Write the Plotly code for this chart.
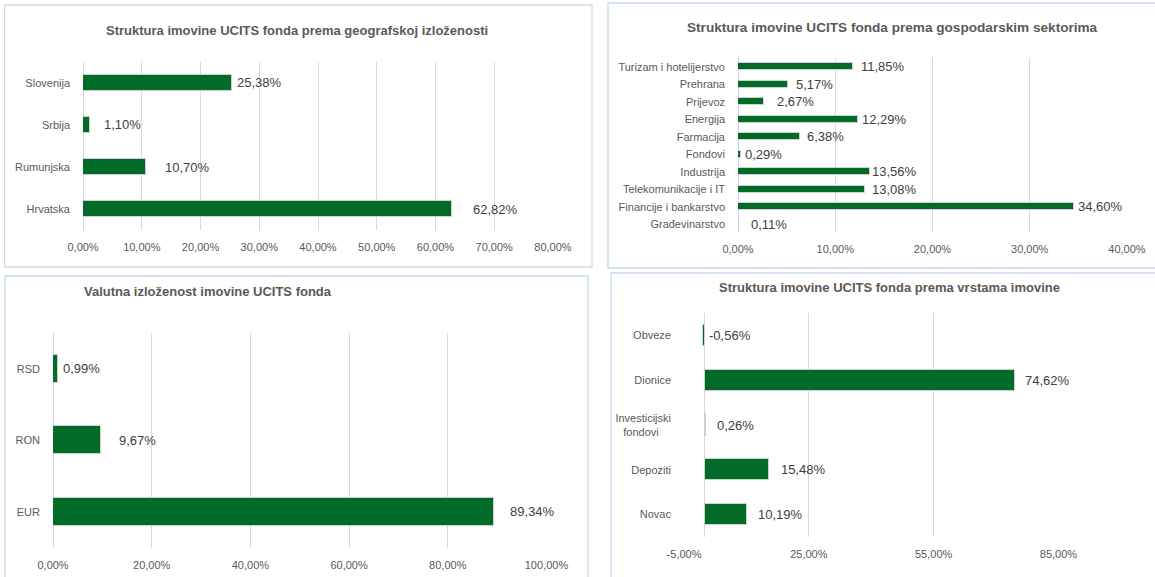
import plotly.graph_objects as go

W, H = 1155, 577

# ---------------- data ----------------
geo_cats = ["Hrvatska", "Rumunjska", "Srbija", "Slovenija"]
geo_vals = [62.82, 10.70, 1.10, 25.38]

sec_cats = ["Građevinarstvo", "Financije i bankarstvo", "Telekomunikacije i IT", "Industrija",
            "Fondovi", "Farmacija", "Energija", "Prijevoz", "Prehrana", "Turizam i hotelijerstvo"]
sec_vals = [0.11, 34.60, 13.08, 13.56, 0.29, 6.38, 12.29, 2.67, 5.17, 11.85]

cur_cats = ["EUR", "RON", "RSD"]
cur_vals = [89.34, 9.67, 0.99]

ast_cats = ["Novac", "Depoziti", "Investicijski fondovi", "Dionice", "Obveze"]
ast_vals = [10.19, 15.48, 0.26, 74.62, -0.56]
ast_ticktext = ["Novac", "Depoziti", "Investicijski<br>fondovi\u00a0\u00a0\u00a0\u00a0", "Dionice", "Obveze"]

geo_ticks = [0, 10, 20, 30, 40, 50, 60, 70, 80]
sec_ticks = [0, 10, 20, 30, 40]
cur_ticks = [0, 20, 40, 60, 80, 100]
ast_ticks = [-5, 25, 55, 85]

titles = [
    "Struktura imovine UCITS fonda prema geografskoj izloženosti",
    "Struktura imovine UCITS fonda prema gospodarskim sektorima",
    "Valutna izloženost imovine UCITS fonda",
    "Struktura imovine UCITS fonda prema vrstama imovine",
]

# ---------------- styling ----------------
FONT = "Liberation Sans Narrow, Arial Narrow, Liberation Sans, Arial, sans-serif"
GREEN = "#036b28"
TICK_C = "#595959"
LABEL_C = "#404040"

# horizontal gap (px) between bar end and its data label, as placed in the original
geo_gap = [21, 19, 14, 5]
sec_gap = [12, 3.5, 7, 2, 4, 7, 4.5, 13, 8, 8]
cur_gap = [16, 18, 5]
ast_gap = [10.5, 11.5, 11, 10, 4]


def fx(p):
    return p / W


def fy(p):
    return 1 - p / H


def pct(v):
    return f"{v:.2f}".replace(".", ",") + "%"


panels = [
    dict(cats=geo_cats, vals=geo_vals, ticks=geo_ticks, gap=geo_gap, tt=geo_cats,
         xd=(83, 553), yd=(62, 230), bw=0.37, grid="#d9d9d9", zero="#d9d9d9", sx=9),
    dict(cats=sec_cats, vals=sec_vals, ticks=sec_ticks, gap=sec_gap, tt=sec_cats,
         xd=(738, 1127), yd=(58, 233), bw=0.40, grid="#d9d9d9", zero="#c6d9f0", sx=8),
    dict(cats=cur_cats, vals=cur_vals, ticks=cur_ticks, gap=cur_gap, tt=cur_cats,
         xd=(53, 546.5), yd=(333, 547.5), bw=0.39, grid="#d9d9d9", zero="#c6d9f0", sx=9),
    dict(cats=ast_cats, vals=ast_vals, ticks=ast_ticks, gap=ast_gap, tt=ast_ticktext,
         xd=(684, 1058.5), yd=(313, 537), bw=0.47, grid="#ddd9c3", zero="#ddd9c3", sx=9),
]

fig = go.Figure()
layout = dict(
    width=W, height=H, autosize=False,
    margin=dict(l=0, r=0, t=0, b=0, autoexpand=False),
    paper_bgcolor="white", plot_bgcolor="white",
    showlegend=False, separators=",.",
    font=dict(family=FONT, size=11, color=TICK_C),
    bargap=0.0,
)
anns = []

for i, p in enumerate(panels):
    n = "" if i == 0 else str(i + 1)
    xa, ya = "x" + n, "y" + n
    fig.add_trace(go.Bar(
        x=p["vals"], y=p["cats"], orientation="h", width=p["bw"],
        marker=dict(color=GREEN, line=dict(color="#d0d0d0", width=1)),
        xaxis=xa, yaxis=ya, hoverinfo="skip",
    ))
    for c, v, g in zip(p["cats"], p["vals"], p["gap"]):
        anns.append(dict(text=pct(v), x=max(v, 0), y=c, xref=xa, yref=ya,
                         xanchor="left", yanchor="middle", xshift=g - 1, showarrow=False,
                         borderpad=0, font=dict(family=FONT, size=13, color=LABEL_C)))
    lo, hi = p["ticks"][0], p["ticks"][-1]
    eps = 1e-4 * (hi - lo)
    layout["xaxis" + n] = dict(
        domain=[fx(p["xd"][0]), fx(p["xd"][1])], anchor=ya, automargin=False,
        range=[lo - eps, hi + eps], tickmode="array", tickvals=p["ticks"],
        ticktext=[pct(t) for t in p["ticks"]],
        showgrid=True, gridcolor=p["grid"], gridwidth=1,
        zeroline=True, zerolinecolor=p["zero"], zerolinewidth=1, showline=False,
        tickfont=dict(family=FONT, size=11, color=TICK_C), ticklabelstandoff=p["sx"],
        fixedrange=True,
    )
    layout["yaxis" + n] = dict(
        domain=[fy(p["yd"][1]), fy(p["yd"][0])], anchor=xa, automargin=False,
        type="category", categoryorder="array", categoryarray=p["cats"],
        tickmode="array", tickvals=p["cats"], ticktext=p["tt"],
        range=[-0.5, len(p["cats"]) - 0.5],
        showgrid=False, zeroline=False, showline=False,
        tickfont=dict(family=FONT, size=11, color=TICK_C), ticklabelstandoff=12,
        fixedrange=True,
    )

# panel borders
borders = [
    ((4.5, 5), (592, 267), "#d9d9d9"),
    ((608, 3), (1160, 268), "#c6d9f0"),
    ((5, 276), (588, 585), "#c6d9f0"),
    ((611, 273), (1160, 585), "#c6d9f0"),
]
shapes = []
for (x0, y0), (x1, y1), c in borders:
    shapes.append(dict(type="rect", xref="paper", yref="paper",
                       x0=fx(x0), x1=fx(x1), y0=fy(y1), y1=fy(y0),
                       line=dict(color=c, width=1.3), fillcolor="rgba(0,0,0,0)", layer="below"))
layout["shapes"] = shapes

title_pos = [(297, 30, "center", 13), (892, 27, "center", 13.6),
             (82, 291, "left", 13), (889, 287, "center", 13)]
for t, (x, y, anc, fs) in zip(titles, title_pos):
    anns.append(dict(text="<b>" + t + "</b>", xref="paper", yref="paper", x=fx(x), y=fy(y),
                     xanchor=anc, yanchor="middle", showarrow=False,
                     font=dict(family=FONT, size=fs, color=TICK_C)))
layout["annotations"] = anns

fig.update_layout(**layout)
fig.write_html("out.html")
